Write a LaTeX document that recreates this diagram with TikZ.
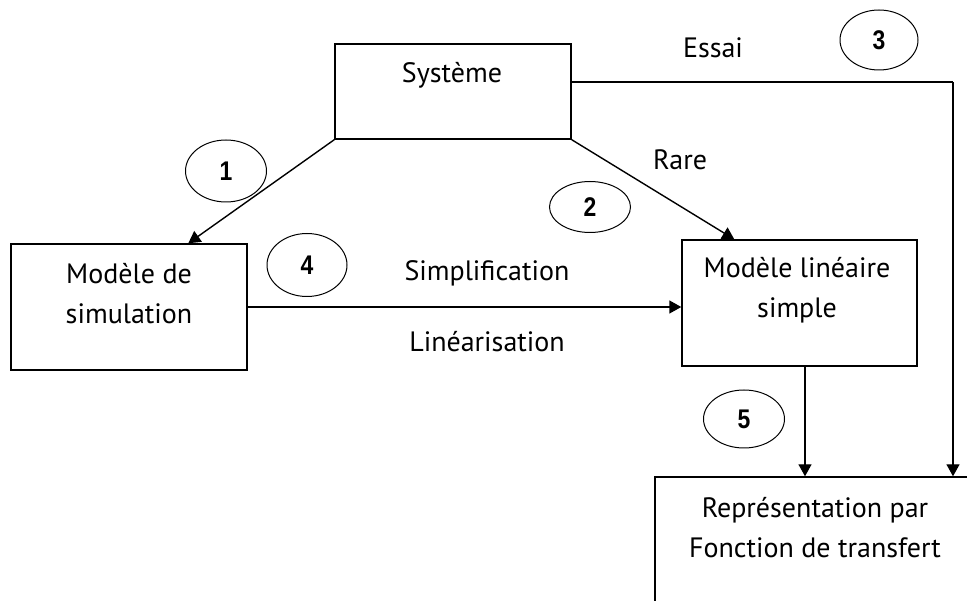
\documentclass[tikz,border=0pt]{standalone}
\usepackage{fontspec}
\setmainfont{PT Sans}
\newfontfamily\numfont{Liberation Sans}[FakeStretch=0.85, UprightFont={* Bold}]
\usetikzlibrary{arrows.meta,shapes.geometric}
\tikzset{
  lbl/.style={font=\fontsize{28}{40}\selectfont, inner sep=0pt, align=center},
  numell/.style={draw, ellipse, line width=1pt, inner sep=0pt, font=\numfont\fontsize{27}{27}\selectfont},
  arr/.style={line width=1.4pt, -{Triangle[length=12pt,width=13pt]}},
  plain/.style={line width=1.4pt},
  blk/.style={draw, line width=1.4pt, inner sep=0pt}
}
\begin{document}
\begin{tikzpicture}[x=1pt,y=-1pt]
\useasboundingbox (0,0) rectangle (967,601);
\clip (0,0) rectangle (967,601);
% boxes
\node[blk, minimum width=236pt, minimum height=95pt] (sys) at (453,91.5) {};
\node[blk, minimum width=236pt, minimum height=126pt] (sim) at (129,307) {};
\node[blk, minimum width=235pt, minimum height=126pt] (lin) at (799.5,303) {};
\node[blk, minimum width=330pt, minimum height=150pt] (rep) at (820,552) {};
% texts
\node[lbl] (tsys) at (452,75) {Système};
\node[lbl] (tsim) at (129,294) {Modèle de\\simulation};
\node[lbl] (tlin) at (797,290) {Modèle linéaire\\simple};
\node[lbl] (trep) at (815,528) {Représentation par\\Fonction de transfert};
\node[lbl] (tessai) at (713,48) {Essai};
\node[lbl] (trare) at (680,160) {Rare};
\node[lbl] (tsimp) at (487,273) {Simplification};
\node[lbl] (tlinear) at (487,342) {Linéarisation};
% ellipses
\node[numell, minimum width=81pt, minimum height=62pt] (e1) at (226,171) {1};
\node[numell, minimum width=81pt, minimum height=51pt] (e2) at (590,207) {2};
\node[numell, minimum width=78pt, minimum height=60pt] (e3) at (879,40) {3};
\node[numell, minimum width=80pt, minimum height=63pt] (e4) at (307,265) {4};
\node[numell, minimum width=81pt, minimum height=58pt] (e5) at (744,419) {5};
% connectors
\coordinate (c3) at (953,82);
\draw[arr] (sys.south west) -- ([xshift=178pt]sim.north west);
\draw[arr] (sys.south east) -- ([xshift=53pt]lin.north west);
\draw[arr] (sim.east) -- (sim.east -| lin.west);
\draw[plain] (sys.east |- c3) -- (c3);
\draw[arr] (c3) -- (c3 |- rep.north);
\draw[arr] ([xshift=5.5pt]lin.south) -- ([xshift=5.5pt]lin.south |- rep.north);
\end{tikzpicture}
\end{document}
